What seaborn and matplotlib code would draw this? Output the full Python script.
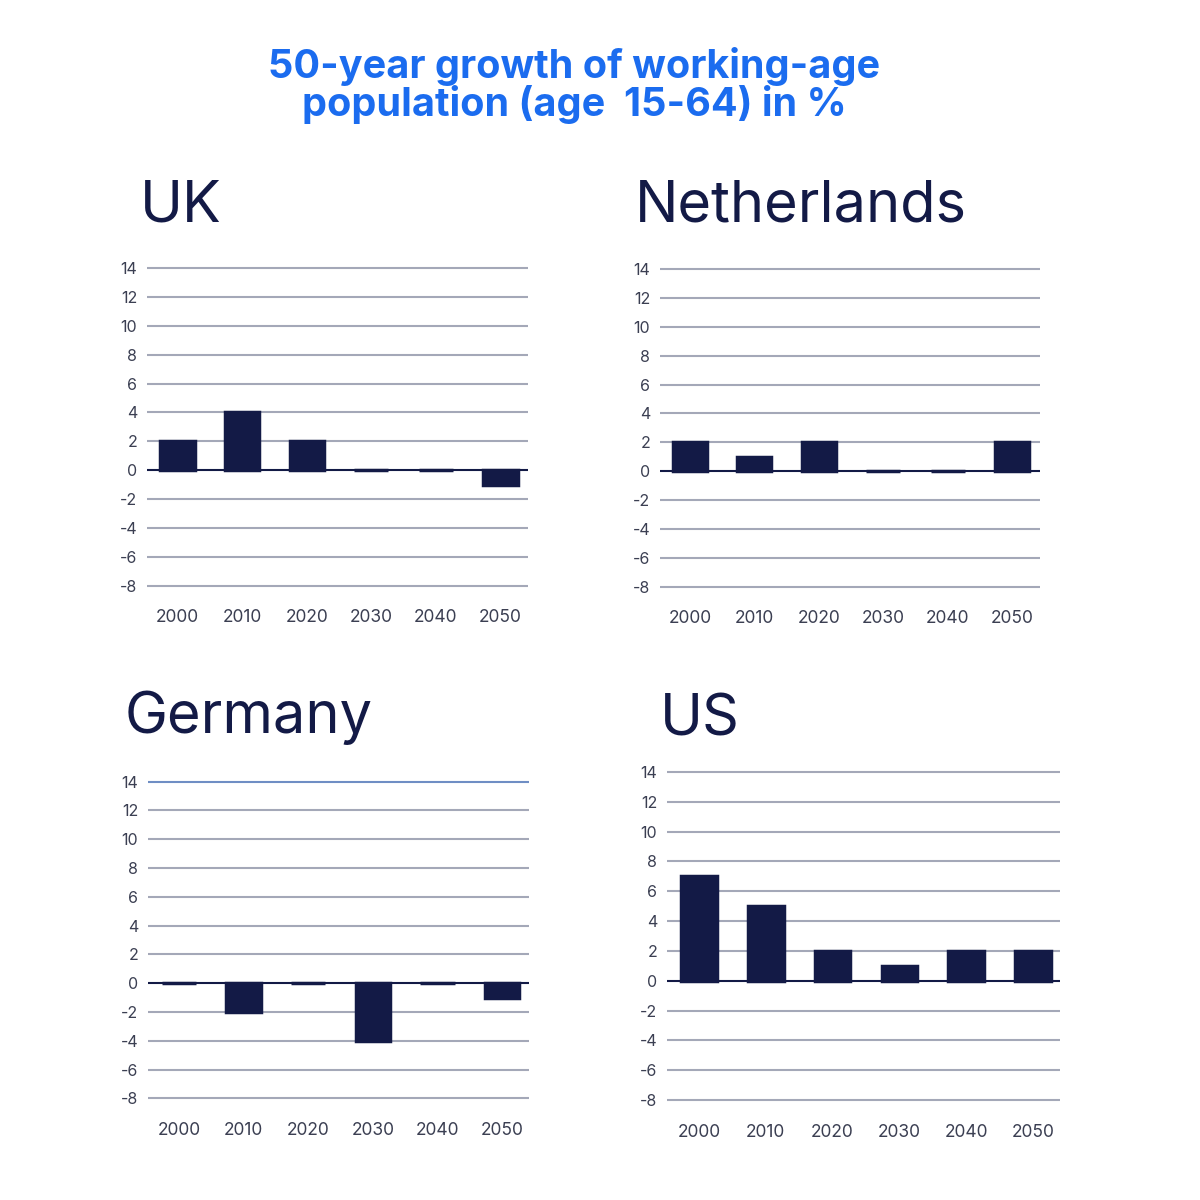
import seaborn as sns
import matplotlib.pyplot as plt

# values (growth in %)
years = ["2000", "2010", "2020", "2030", "2040", "2050"]
uk = [2, 4, 2, 0, 0, -1]
netherlands = [2, 1, 2, 0, 0, 2]
germany = [0, -2, 0, -4, 0, -1]
us = [7, 5, 2, 1, 2, 2]
yticks = list(range(-8, 15, 2))

navy = "#131a46"
grid_col = "#a4a8b8"
text_col = "#3b3f52"
title_blue = "#1b6cef"

sns.set_theme(style="white")
plt.rcParams['font.family'] = ['Inter', 'DejaVu Sans']

W = H = 1200
fig = plt.figure(figsize=(12, 12), dpi=100)

# layout in pixels: left, right, y of 14 line, y of -8 line, first/last bar centre, title xy
panels = [
    ("UK", uk, (147, 528, 268, 585.7, 177.5, 500.5), (140, 221)),
    ("Netherlands", netherlands, (660, 1040, 269, 586.7, 690, 1012), (635, 221)),
    ("Germany", germany, (148, 529, 781.7, 1098.3, 179, 502), (125, 733)),
    ("US", us, (667, 1060, 772, 1100, 699, 1033), (660, 735)),
]

m = 0.3
for name, vals, (l, r, y14, ym8, c0, c5), (tx, ty) in panels:
    ppu = (ym8 - y14) / 22
    top = y14 - m * ppu
    bot = ym8 + m * ppu
    ax = fig.add_axes([l / W, 1 - bot / H, (r - l) / W, (bot - top) / H])
    sp = (c5 - c0) / 5
    sns.barplot(x=years, y=vals, color=navy, saturation=1, width=0.53,
                edgecolor=navy, linewidth=2.5, ax=ax, zorder=3)
    ax.set_xlim(-(c0 - l) / sp, 5 + (r - c5) / sp)
    ax.set_ylim(-8 - m, 14 + m)
    ax.set_yticks(yticks)
    ax.set_yticklabels([str(v) for v in yticks])
    for v in yticks:
        c = navy if v == 0 else grid_col
        if name == "Germany" and v == 14:
            c = "#6f8ec4"
        ax.axhline(v, color=c, lw=1.5, zorder=1 if v else 4)
    ax.set_xlabel("")
    ax.set_ylabel("")
    sns.despine(ax=ax, left=True, bottom=True)
    ax.tick_params(axis="y", length=0, pad=7, labelsize=11.5, labelcolor=text_col)
    ax.tick_params(axis="x", length=0, pad=14, labelsize=12.5, labelcolor=text_col)
    fig.text(tx / W, 1 - ty / H, name, fontsize=41.5, color=navy,
             ha="left", va="baseline")

fig.text(574 / W, 1 - 78 / H, "50-year growth of working-age", fontsize=28.5,
         fontweight="bold", color=title_blue, ha="center", va="baseline")
fig.text(574 / W, 1 - 116 / H, "population (age  15-64) in %", fontsize=28.5,
         fontweight="bold", color=title_blue, ha="center", va="baseline")

fig.savefig("out.png", dpi=100)
